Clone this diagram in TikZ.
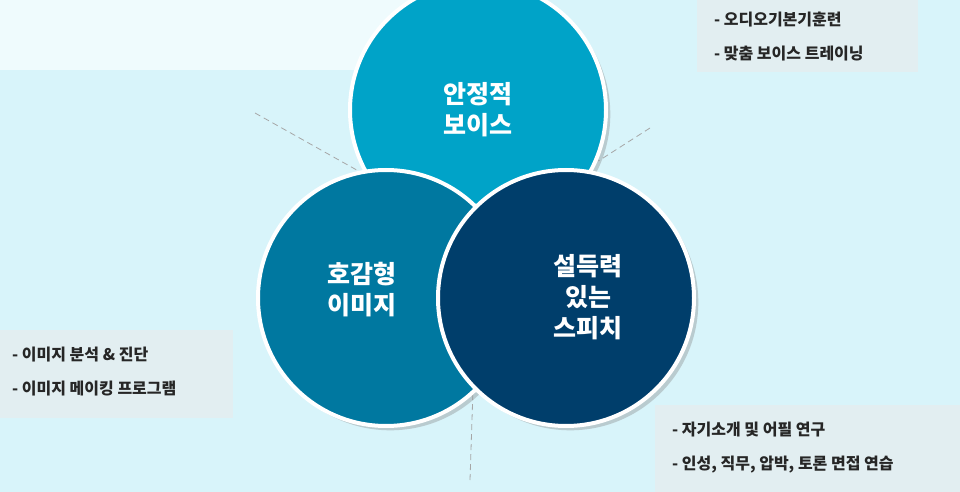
\documentclass[tikz,border=0pt]{standalone}
\usepackage{fontspec}
\newfontfamily\kr{Noto Sans CJK KR}
\usetikzlibrary{positioning,shadows,calc}
\definecolor{bgcyan}{HTML}{D8F4FA}
\definecolor{topblue}{HTML}{00A3C8}
\definecolor{leftblue}{HTML}{0078A0}
\definecolor{rightblue}{HTML}{003E6B}
\definecolor{boxgray}{HTML}{E2EEF1}
\begin{document}
\begin{tikzpicture}
	[x=0.5pt,y=-0.5pt,
	every node/.style={font=\kr}]
	\tikzstyle{petal} = [circle, draw=white, line width=2pt, minimum size=128pt, drop shadow={opacity=0.35}];
	\tikzstyle{label} = [text=white, font=\kr\bfseries\fontsize{12.5}{15.5}\selectfont, align=center];
	\tikzstyle{guide} = [gray!70, densely dashed, thin];
	\tikzstyle{item} = [anchor=west, font=\kr\bfseries\fontsize{8}{10}\selectfont, text=black!85];

	\useasboundingbox (0,0) rectangle (960,492);
	\fill[bgcyan] (0,0) rectangle (960,492);
	\fill[white!60!bgcyan] (0,0) rectangle (420,70);

	% boxes
	\fill[boxgray] (697,0) rectangle (918,72);
	\fill[boxgray] (0,330) rectangle (233,418);
	\fill[boxgray] (655,405) rectangle (960,492);

	% guide lines
	\coordinate (g1) at (255,113);
	\coordinate (g2) at (650,128);
	\coordinate (g3) at (470,480);
	\coordinate (c0) at (478,238);
	\draw[guide] (g1) -- ($(g1)!0.5!(c0)$);
	\draw[guide] (g2) -- ($(g2)!0.3!(c0)$);
	\draw[guide] (g3) -- ($(g3)!0.45!(c0)$);

	\node[petal, fill=topblue] (vo) at (478,110) {};
	\node[petal, fill=leftblue] (im) at (386,298) {};
	\node[petal, fill=rightblue] (sp) at (566,298) {};

	\node[label] (vot) at (478,110) {안정적\\보이스};
	\node[label] (imt) at (362,290) {호감형\\이미지};
	\node[label] (spt) at (588,297) {설득력\\있는\\스피치};

	\node[item] (v1) at (707,20) {-\ 오디오기본기훈련};
	\node[item] (v2) at (707,54) {-\ 맞춤 보이스 트레이닝};
	\node[item] (i1) at (5,355) {-\ 이미지 분석 \& 진단};
	\node[item] (i2) at (5,389) {-\ 이미지 메이킹 프로그램};
	\node[item] (s1) at (665,430) {-\ 자기소개 및 어필 연구};
	\node[item] (s2) at (665,465) {-\ 인성, 직무, 압박, 토론 면접 연습};
\end{tikzpicture}
\end{document}
